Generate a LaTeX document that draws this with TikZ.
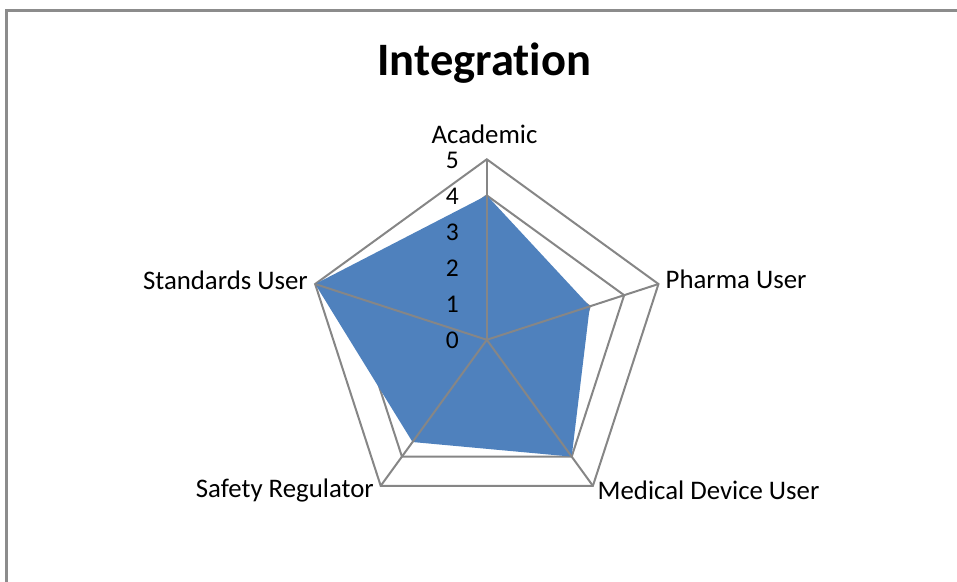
\documentclass[tikz,border=0pt]{standalone}
\usepackage{fontspec}
\setmainfont[Ligatures=NoCommon]{Carlito}
\definecolor{gridgray}{HTML}{868686}
\definecolor{serieblue}{HTML}{4F81BD}
\definecolor{framegray}{HTML}{8C8C8C}
\tikzset{
  gridline/.style={draw=gridgray, line width=2pt, line join=miter},
  framestyle/.style={draw=framegray, line width=2.2pt},
  catlabel/.style={inner sep=0pt, font=\fontsize{26.8}{31}\selectfont},
  ticklabel/.style={inner sep=0pt, anchor=base east, font=\fontsize{25.5}{30}\selectfont},
  titlestyle/.style={inner sep=0pt, anchor=base, font=\bfseries\fontsize{46.5}{52}\selectfont}
}
\begin{document}
\begin{tikzpicture}[x=1pt,y=1pt]
\useasboundingbox (0,0) rectangle (957,-581);
% frame
\coordinate (frTR) at (958,-10.5);
\coordinate (frTL) at (6.5,-10.5);
\coordinate (frBL) at (6.5,-582);
\draw[framestyle] (frTR) -- (frTL) -- (frBL);
% title
\node[titlestyle] (title) at (484.3,-75) {Integration};
\begin{scope}[shift={(486.8,-339.8)}]
  \coordinate (O) at (0,0);
  \coordinate (ac) at (90:180.5);
  \coordinate (ph) at (18:180.5);
  \coordinate (md) at (-54:180.5);
  \coordinate (sr) at (-126:180.5);
  \coordinate (su) at (162:180.5);
  % grid pentagons
  \foreach \i in {1,...,5}{
    \draw[gridline] ({90}:{\i*36.1}) -- ({18}:{\i*36.1}) -- ({-54}:{\i*36.1})
      -- ({-126}:{\i*36.1}) -- ({162}:{\i*36.1}) -- cycle;
  }
  % data
  \coordinate (vac) at (90:144.4);
  \coordinate (vph) at (18:108.3);
  \coordinate (vmd) at (-54:144.4);
  \coordinate (vsr) at (-126:126.35);
  \coordinate (vsu) at (162:180.5);
  \fill[serieblue] (vac) -- (vph) -- (vmd) -- (vsr) -- (vsu) -- cycle;
  % spokes
  \foreach \p in {ac,ph,md,sr,su}{
    \draw[gridline] (O) -- (\p);
  }
\end{scope}
% tick labels
\foreach \i in {0,...,5}{
  \node[ticklabel] (tick\i) at (459,{-339.8+\i*36.1-8.8}) {\i};
}
% category labels
\node[catlabel, anchor=base] (lac) at (484.5,-143) {Academic};
\node[catlabel, anchor=base west] (lph) at (665.5,-288.7) {Pharma User};
\node[catlabel, anchor=base west] (lmd) at (597.5,-499) {Medical Device User};
\node[catlabel, anchor=base east] (lsr) at (374,-497.7) {Safety Regulator};
\node[catlabel, anchor=base east] (lsu) at (308,-289) {Standards User};
\end{tikzpicture}
\end{document}
